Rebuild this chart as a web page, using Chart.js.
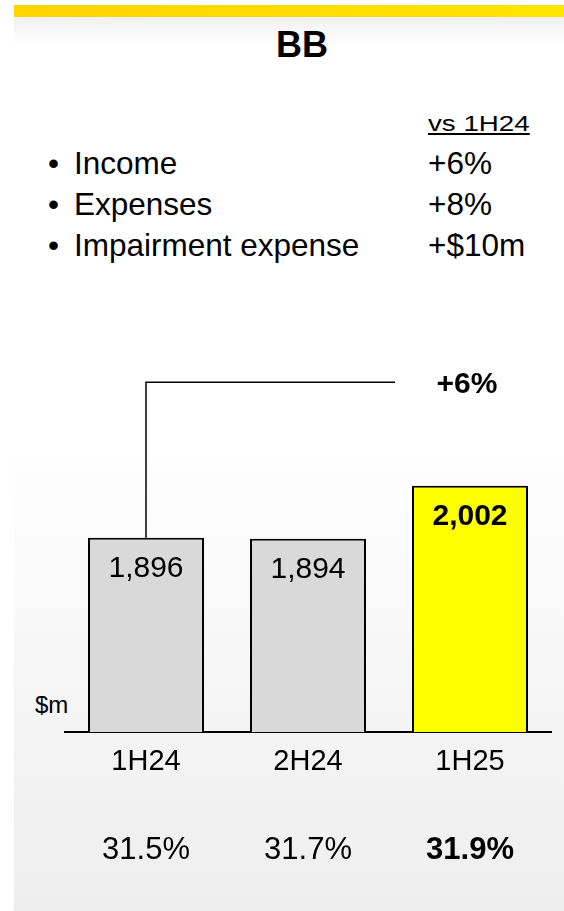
<!DOCTYPE html>
<html>
<head>
<meta charset="utf-8">
<title>BB</title>
<script src="https://cdn.jsdelivr.net/npm/chart.js@4"></script>
<style>
  html, body { margin: 0; padding: 0; background: #fff; }
  body { width: 564px; height: 911px; position: relative; overflow: hidden;
         font-family: "Liberation Sans", Arial, sans-serif; color: #000; }
  .strip { position: absolute; left: 14px; top: 5px; width: 550px; height: 12px;
           background: linear-gradient(to right, #ffd400, #ffe500); }
  .panel { position: absolute; left: 14px; top: 17px; width: 550px; height: 894px;
           background: linear-gradient(to bottom, #f1f1f1 0px, #ffffff 28px, #ffffff 420px, #f5f5f5 680px, #eeeeee 894px); }
  .txt { position: absolute; line-height: 1; white-space: nowrap; }
  #chartBox { position: absolute; left: 0; top: 300px; width: 564px; height: 611px; }
</style>
</head>
<body>
<div class="strip"></div>
<div class="panel"></div>

<div class="txt" style="left:276px; top:26.5px; font-size:36px; font-weight:bold;">BB</div>

<div class="txt" style="left:428px; top:112.5px; font-size:22px; text-decoration:underline; transform:scaleX(1.26); transform-origin:left;">vs 1H24</div>

<div class="txt" style="left:48px; top:147.5px; font-size:31.5px;">•</div>
<div class="txt" style="left:74px; top:147.5px; font-size:31.5px;">Income</div>
<div class="txt" style="left:428px; top:147.5px; font-size:31.5px;">+6%</div>

<div class="txt" style="left:48px; top:188.5px; font-size:31.5px;">•</div>
<div class="txt" style="left:74px; top:188.5px; font-size:31.5px;">Expenses</div>
<div class="txt" style="left:428px; top:188.5px; font-size:31.5px;">+8%</div>

<div class="txt" style="left:48px; top:229.5px; font-size:31.5px;">•</div>
<div class="txt" style="left:74px; top:229.5px; font-size:31.5px;">Impairment expense</div>
<div class="txt" style="left:428px; top:229.5px; font-size:31.5px;">+$10m</div>

<div class="txt" style="left:35px; top:693px; font-size:24px;">$m</div>

<div id="chartBox"><canvas id="ChartCanvas" width="564" height="611"></canvas></div>

<script>
// chart data
const periods = ['1H24', '2H24', '1H25'];
const incomeValues = [1896, 1894, 2002];
const ratioLabels = ['31.5%', '31.7%', '31.9%'];
const growthLabel = '+6%';
const bracketLevel = 2213;

const barColors = ['#d9d9d9', '#d9d9d9', '#ffff00'];

Chart.defaults.font.family = '"Liberation Sans", Arial, sans-serif';
Chart.defaults.color = '#000';

/**
 * Writes the value inside the top of each bar.
 */
const valueLabels = {
  id: 'valueLabels',
  afterDatasetsDraw: chart => {
    const ctx = chart.ctx;
    const meta = chart.getDatasetMeta(0);
    ctx.save();
    ctx.fillStyle = '#000';
    ctx.textAlign = 'center';
    ctx.textBaseline = 'alphabetic';
    meta.data.forEach((bar, i) => {
      const last = i === meta.data.length - 1;
      ctx.font = (last ? 'bold ' : '') + '30px "Liberation Sans", Arial, sans-serif';
      ctx.fillText(incomeValues[i].toLocaleString('en-US'), bar.x, bar.y + 39);
    });
    ctx.restore();
  }
};

/**
 * Growth bracket from the first bar to the last one.
 */
const growthBracket = {
  id: 'growthBracket',
  afterDatasetsDraw: chart => {
    const ctx = chart.ctx;
    const meta = chart.getDatasetMeta(0);
    const first = meta.data[0];
    const last = meta.data[meta.data.length - 1];
    const lineY = chart.scales.y.getPixelForValue(bracketLevel);
    const endX = last.x - last.width / 2 - 17;

    ctx.save();
    ctx.beginPath();
    ctx.moveTo(first.x, first.y);
    ctx.lineTo(first.x, lineY);
    ctx.lineTo(endX, lineY);
    ctx.lineWidth = 1.5;
    ctx.strokeStyle = '#000';
    ctx.stroke();

    ctx.fillStyle = '#000';
    ctx.font = 'bold 30px "Liberation Sans", Arial, sans-serif';
    ctx.textAlign = 'center';
    ctx.textBaseline = 'alphabetic';
    ctx.fillText(growthLabel, last.x - 3, lineY + 11);
    ctx.restore();
  }
};

const chart = new Chart(document.getElementById('ChartCanvas'), {
  type: 'bar',
  data: {
    labels: periods,
    datasets: [{
      label: 'Income',
      data: incomeValues,
      backgroundColor: barColors,
      borderColor: '#000',
      borderWidth: 2,
      barPercentage: 0.716,
      categoryPercentage: 1
    }]
  },
  options: {
    responsive: false,
    animation: false,
    events: [],
    layout: {
      padding: { top: 64, left: 65, right: 13, bottom: 19 }
    },
    plugins: {
      legend: { display: false },
      tooltip: { enabled: false }
    },
    scales: {
      y: {
        display: false,
        min: 1500,
        max: 2250
      },
      x: {
        position: 'bottom',
        weight: 0,
        grid: { display: false },
        border: { display: true, color: '#000', width: 2 },
        ticks: {
          padding: 5,
          font: { size: 29, lineHeight: 1.2 },
          color: '#000'
        },
        afterFit: axis => { axis.height = 60; }
      },
      x2: {
        type: 'category',
        position: 'bottom',
        weight: 1,
        labels: ratioLabels,
        grid: { display: false },
        border: { display: false },
        ticks: {
          padding: 32,
          color: '#000',
          font: context => ({
            size: 31,
            lineHeight: 1.2,
            weight: context.index === ratioLabels.length - 1 ? 'bold' : 'normal'
          })
        },
        afterFit: axis => { axis.height = 100; }
      }
    }
  },
  plugins: [valueLabels, growthBracket]
});
</script>
</body>
</html>
